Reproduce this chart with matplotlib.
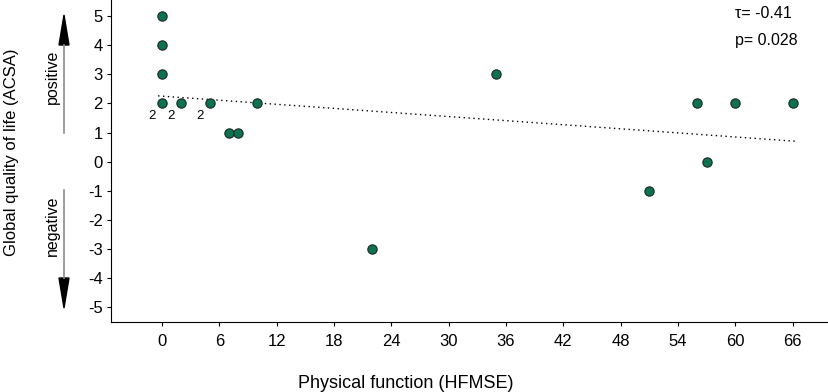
import matplotlib.pyplot as plt
from matplotlib.lines import Line2D
from matplotlib.patches import Polygon

plt.rcParams['font.family'] = ['Liberation Sans', 'DejaVu Sans']
plt.rcParams['axes.unicode_minus'] = False

# HFMSE score vs ACSA global quality of life
hfmse = [0, 0, 0, 0, 2, 5, 7, 8, 10, 22, 35, 51, 56, 57, 60, 66]
acsa = [5, 4, 3, 2, 2, 2, 1, 1, 2, -3, 3, -1, 2, 0, 2, 2]
# points that stand for two patients
doubles_x = [0, 2, 5]
doubles_y = [2, 2, 2]
# trend line
trend_x = [-0.4, 66.4]
trend_y = [2.26, 0.70]
xticks = list(range(0, 67, 6))
yticks = list(range(-5, 6))

W, H = 829, 392
fig = plt.figure(figsize=(W / 100, H / 100), dpi=100)
ax = fig.add_axes([111 / W, 1 - 322 / H, (828 - 111) / W, 322 / H])

ax.plot(trend_x, trend_y, color='black', linestyle=(0, (1, 2.5)), linewidth=1)
ax.scatter(hfmse, acsa, s=45, color='#0e7152', edgecolor='#1a2a22', linewidth=0.8, zorder=3)
for x, y in zip(doubles_x, doubles_y):
    ax.annotate('2', (x, y), xytext=(-7, -9), textcoords='offset points',
                fontsize=9.5, ha='center', va='center')

ax.set_xlim(-5.33, 69.7)
ax.set_ylim(-5.5, 5.55)
ax.set_xticks(xticks)
ax.set_yticks(yticks)
ax.tick_params(axis='both', labelsize=12, length=3, width=0.8, direction='out')
ax.tick_params(axis='x', pad=6)
ax.tick_params(axis='y', pad=3)
ax.spines['top'].set_visible(False)
ax.spines['right'].set_visible(False)

fig.text(735 / W, 1 - 13 / H, 'τ= -0.41', fontsize=11.5, va='center')
fig.text(735 / W, 1 - 41 / H, 'p= 0.028', fontsize=11.5, va='center')

fig.text(12 / W, 1 - 152 / H, 'Global quality of life (ACSA)', rotation=90,
         fontsize=12, ha='center', va='center')
fig.text(406 / W, 1 - 383 / H, 'Physical function (HFMSE)', fontsize=13,
         ha='center', va='center')

# direction arrows on the left
fig.text(52 / W, 1 - 77 / H, 'positive', rotation=90, fontsize=11.5, ha='center', va='center')
fig.text(52 / W, 1 - 226 / H, 'negative', rotation=90, fontsize=11.5, ha='center', va='center')
ax_x = 64
for shaft0, shaft1, tip in [(133, 45, 15), (190, 278, 308)]:
    fig.add_artist(Line2D([ax_x / W, ax_x / W], [1 - shaft0 / H, 1 - shaft1 / H],
                          color='#8c8c8c', linewidth=1.2, transform=fig.transFigure))
    fig.add_artist(Polygon([(ax_x / W, 1 - tip / H), ((ax_x - 5) / W, 1 - shaft1 / H),
                            ((ax_x + 5) / W, 1 - shaft1 / H)], closed=True,
                           color='black', transform=fig.transFigure))

plt.savefig('out.png', dpi=100)
